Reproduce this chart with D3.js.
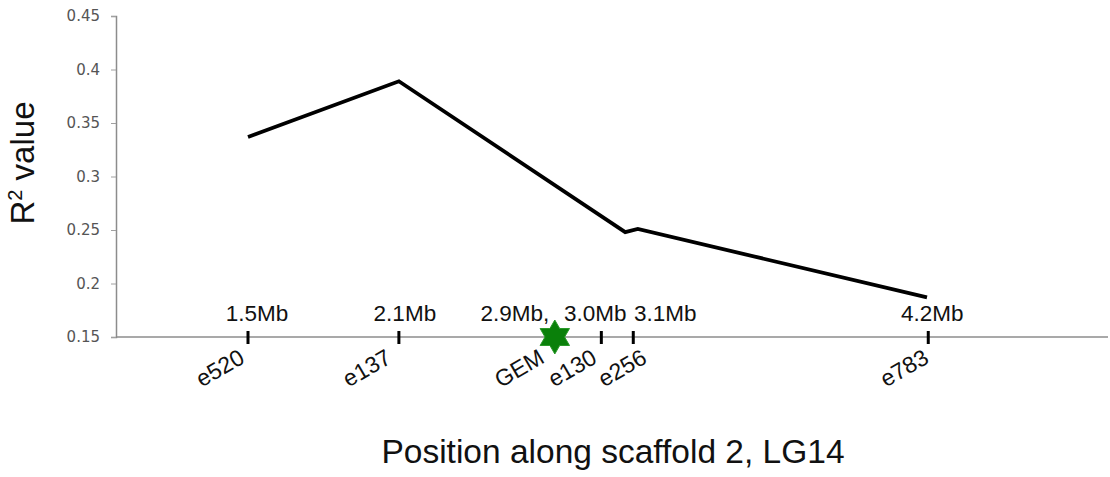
<!DOCTYPE html>
<html>
<head>
<meta charset="utf-8">
<script src="https://d3js.org/d3.v7.min.js"></script>
<style>
  html, body { margin: 0; padding: 0; background: #fff; }
  svg { display: block; }
  text { font-family: "Liberation Sans", Arial, sans-serif; }
</style>
</head>
<body>
<svg id="chart" width="1110" height="477"></svg>
<script>
// ---- data ----
const linePositionsMb = [1.5, 2.1, 3.0, 3.05, 4.2];
const lineR2 = [0.337, 0.389, 0.248, 0.251, 0.187];

const markerNames = ["e520", "e137", "GEM", "e130", "e256", "e783"];
const markerPositionsMb = [1.5, 2.1, 2.72, 2.905, 3.032, 4.205];
const markerMbLabels = ["1.5Mb", "2.1Mb", "2.9Mb,", "3.0Mb", "3.1Mb", "4.2Mb"];
const markerIsGene = [false, false, true, false, false, false];

const yTickValues = [0.15, 0.2, 0.25, 0.3, 0.35, 0.4, 0.45];
const yTickLabels = ["0.15", "0.2", "0.25", "0.3", "0.35", "0.4", "0.45"];

const yAxisTitle = "value";
const xAxisTitle = "Position along scaffold 2, LG14";

// ---- layout ----
const svg = d3.select("#chart");
const plotLeft = 116, plotRight = 1108, plotTop = 16, plotBottom = 337;

const x = d3.scaleLinear().domain([1.5, 4.2]).range([248, 927]);
const y = d3.scaleLinear().domain([0.15, 0.45]).range([plotBottom, plotTop]);

// label nudges (text layout only)
const topLabelDx = [9, 6, -40, -6, 32, 4];
const bottomLabelDx = [-2, -6, -9, -3, 15, 2];

// y axis
const yAxis = d3.axisLeft(y)
  .tickValues(yTickValues)
  .tickFormat((d, i) => yTickLabels[i])
  .tickSize(5)
  .tickPadding(11);

const gy = svg.append("g")
  .attr("transform", `translate(${plotLeft},0)`)
  .call(yAxis);
gy.select(".domain").attr("stroke", "#8c8c8c").attr("stroke-width", 1.5);
gy.selectAll(".tick line").attr("stroke", "#a0a0a0").attr("stroke-width", 1);
gy.selectAll(".tick text")
  .attr("fill", "#555")
  .style("font-size", "15px")
  .style("font-family", "'DejaVu Sans', sans-serif");

// x baseline
svg.append("line")
  .attr("x1", plotLeft).attr("x2", plotRight)
  .attr("y1", y(0.15)).attr("y2", y(0.15))
  .attr("stroke", "#8c8c8c").attr("stroke-width", 1.5);

// data line
const pts = linePositionsMb.map((p, i) => [x(p), y(lineR2[i])]);
svg.append("path")
  .attr("d", d3.line()(pts))
  .attr("fill", "none")
  .attr("stroke", "#000")
  .attr("stroke-width", 3.8)
  .attr("stroke-linejoin", "miter");

// markers
markerPositionsMb.forEach((p, i) => {
  const cx = x(p), cy = y(0.15);
  if (markerIsGene[i]) {
    const star = [];
    for (let k = 0; k < 12; k++) {
      const r = k % 2 === 0 ? 17 : 9.8;
      const a = -Math.PI / 2 + k * Math.PI / 6;
      star.push([cx + r * Math.cos(a), cy + r * Math.sin(a)]);
    }
    svg.append("path")
      .attr("d", d3.line().curve(d3.curveLinearClosed)(star))
      .attr("fill", "#0a800a")
      .attr("stroke", "#2a9a2a")
      .attr("stroke-width", 1);
  } else {
    svg.append("line")
      .attr("x1", cx).attr("x2", cx)
      .attr("y1", cy - 6).attr("y2", cy + 7)
      .attr("stroke", "#000").attr("stroke-width", 3);
  }
  // Mb label above
  svg.append("text")
    .attr("x", cx + topLabelDx[i])
    .attr("y", 321)
    .attr("text-anchor", "middle")
    .style("font-size", "22.5px")
    .attr("fill", "#111")
    .text(markerMbLabels[i]);
  // marker name below, rotated
  svg.append("text")
    .attr("transform", `translate(${cx + bottomLabelDx[i]},${cy + 25}) rotate(-30)`)
    .attr("text-anchor", "end")
    .style("font-size", "23px")
    .attr("fill", "#111")
    .text(markerNames[i]);
});

// y axis title
const yt = svg.append("text")
  .attr("transform", "translate(34,163) rotate(-90)")
  .attr("text-anchor", "middle")
  .style("font-size", "33px")
  .attr("fill", "#111");
yt.append("tspan").text("R");
yt.append("tspan").attr("dy", -12).style("font-size", "20px").text("2");
yt.append("tspan").attr("dy", 12).text(" " + yAxisTitle);

// x axis title
svg.append("text")
  .attr("x", 613)
  .attr("y", 463)
  .attr("text-anchor", "middle")
  .style("font-size", "33.5px")
  .attr("fill", "#111")
  .text(xAxisTitle);
</script>
</body>
</html>
